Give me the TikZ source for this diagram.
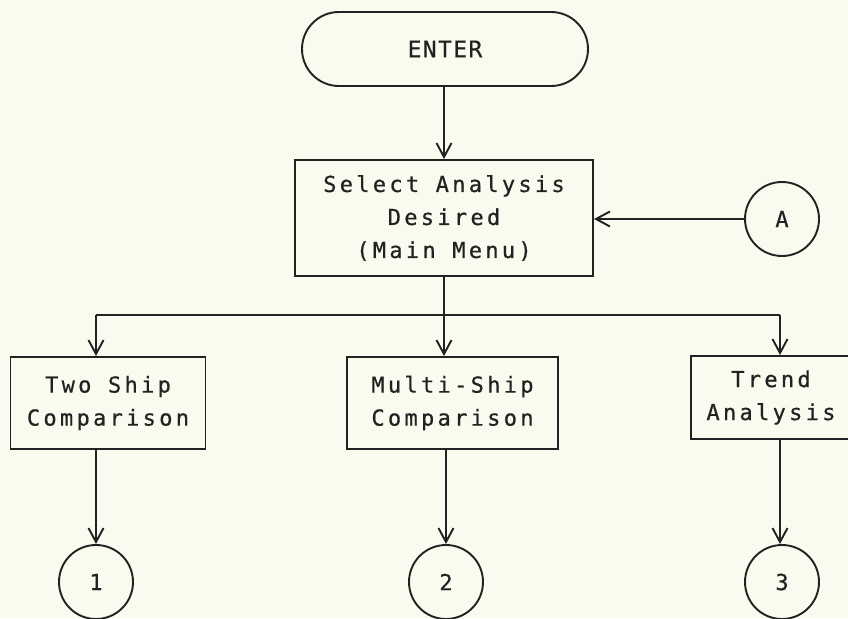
\documentclass[tikz,border=0pt]{standalone}
\usepackage{fontspec}
\newfontfamily\plotfont[LetterSpace=15,FakeBold=0.6]{DejaVu Sans Mono}
\newfontfamily\enterfont[LetterSpace=6,FakeBold=0.6]{DejaVu Sans Mono}
\usetikzlibrary{arrows.meta}
\definecolor{paper}{RGB}{250,250,238}
\definecolor{ink}{RGB}{34,34,34}
\tikzset{
  ln/.style={draw=ink, line width=1.9pt},
  flow/.style={ln, -{Straight Barb[length=14pt,width=15pt,line width=1.9pt]}},
  stepbox/.style={ln, rectangle, inner sep=0pt, align=center, text=ink,
    font=\plotfont\fontsize{22}{33}\selectfont},
  terminal/.style={ln, rectangle, rounded corners=37pt, inner sep=0pt,
    minimum width=286pt, minimum height=74pt, text=ink,
    font=\enterfont\fontsize{23}{28}\selectfont},
  connector/.style={ln, circle, inner sep=0pt, minimum size=74pt, text=ink,
    font=\plotfont\fontsize{22}{26}\selectfont},
}
\begin{document}
\begin{tikzpicture}[x=1pt,y=-1pt]
  \fill[paper] (0,0) rectangle (848,618);
  \useasboundingbox (0,0) rectangle (848,618);
  \clip (0,0) rectangle (848,618);

  % start terminal and main menu
  \node[terminal] (enter) at (445,49) {ENTER};
  \node[stepbox, minimum width=298pt, minimum height=116pt] (main) at (444,218)
    {Select Analysis\\Desired\\(Main Menu)};
  \node[connector] (ca) at (782,219) {A};

  % the three analyses
  \node[stepbox, minimum width=195pt, minimum height=92pt] (two) at (108,403)
    {Two Ship\\Comparison};
  \node[stepbox, minimum width=211pt, minimum height=92pt] (multi) at (452.5,403)
    {Multi-Ship\\Comparison};
  \node[stepbox, minimum width=160pt, minimum height=83pt] (trend) at (771,397.5)
    {Trend\\Analysis};

  % off-page connectors
  \node[connector] (c1) at (96,582) {1};
  \node[connector] (c2) at (446,582) {2};
  \node[connector] (c3) at (782,582) {3};

  % branch line below the main menu
  \coordinate (busL) at (96,315);
  \coordinate (busR) at (780,315);

  \draw[flow] (enter.south -| main.north) -- (main.north);
  \draw[flow] (ca.west) -- (ca.west -| main.east);
  \draw[ln] (main.south) -- (main.south |- busL);
  \draw[ln] (busL) -- (busR);
  \draw[flow] (busL) -- (two.north -| busL);
  \draw[flow] (main.south |- busL) -- (multi.north -| main.south);
  \draw[flow] (busR) -- (trend.north -| busR);

  \draw[flow] (two.south -| c1) -- (c1.north);
  \draw[flow] (multi.south -| c2) -- (c2.north);
  \draw[flow] (trend.south -| busR) -- (c3.north -| busR);
\end{tikzpicture}
\end{document}
